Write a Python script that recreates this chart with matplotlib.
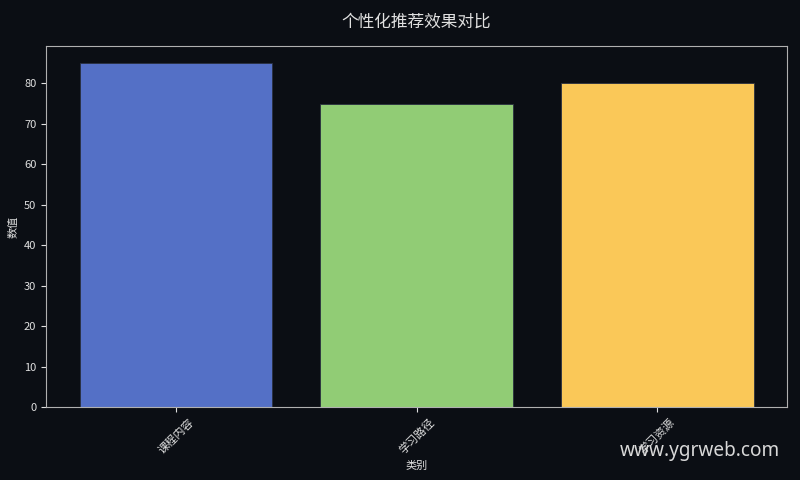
import matplotlib
matplotlib.use('Agg')
import matplotlib.pyplot as plt

plt.rcParams['font.family'] = ['Noto Sans CJK SC', 'DejaVu Sans']
plt.rcParams['axes.unicode_minus'] = False

# data
categories = ['课程内容', '学习路径', '学习资源']
values = [85, 75, 80]
colors = ['#5470c6', '#91cc75', '#fac858']

bg = '#0b0e14'
fg = '#e0e0e0'

fig = plt.figure(figsize=(8, 4.8), dpi=100, facecolor=bg)
ax = fig.add_axes([0.0575, 0.152, 0.9265, 0.752])
ax.set_facecolor(bg)

ax.bar(categories, values, color=colors, width=0.8, edgecolor='#2a3040', linewidth=0.6)

ax.set_title('个性化推荐效果对比', color=fg, fontsize=12, pad=14)
ax.set_xlabel('类别', color=fg, fontsize=8)
ax.set_ylabel('数值', color=fg, fontsize=8)
ax.tick_params(colors=fg, labelsize=8)
plt.setp(ax.get_xticklabels(), rotation=45)
for s in ax.spines.values():
    s.set_color('#b0b0b0')

# watermark
fig.text(0.975, 0.04, 'www.ygrweb.com', color='#d8d8d8', fontsize=13.7,
         family='Noto Sans', ha='right', va='bottom')

fig.savefig('out.png', dpi=100, facecolor=bg)
